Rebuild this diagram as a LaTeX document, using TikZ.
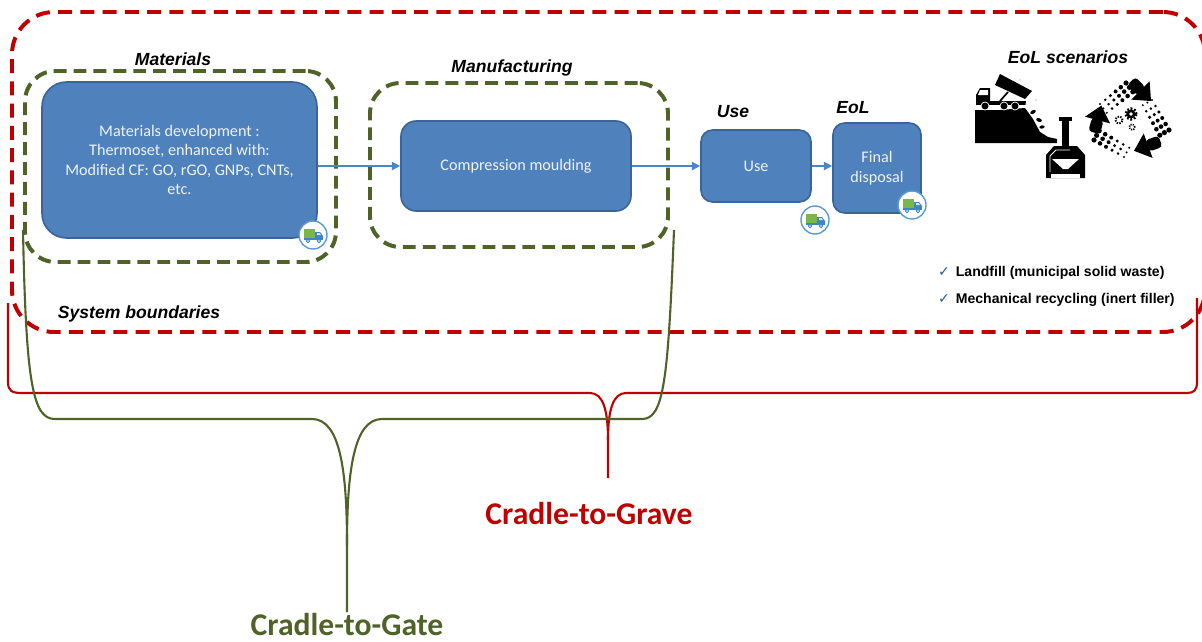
\documentclass[tikz,border=0pt]{standalone}
\usepackage{fontspec}
\setmainfont{Carlito}
\newfontfamily\headfont{Liberation Sans}
\newfontfamily\symbolfont{DejaVu Sans}
\usepackage{tikz}
\usetikzlibrary{arrows.meta, fit}
\usepackage{xcolor}

\definecolor{bndred}{HTML}{C00000}
\definecolor{olive}{HTML}{4F6228}
\definecolor{boxblue}{HTML}{4F81BD}
\definecolor{boxedge}{HTML}{3B6596}
\definecolor{flowblue}{HTML}{4A86C8}
\definecolor{ringblue}{HTML}{5B9BD5}
\definecolor{truckgreen}{HTML}{7AB648}
\definecolor{truckblue}{HTML}{3D85C6}
\definecolor{checkblue}{HTML}{2E5C8A}

\begin{document}
\begin{tikzpicture}[
    x=0.03cm, y=0.03cm,
    stage/.style={draw=boxedge, fill=boxblue, line width=1.4pt, inner sep=0pt, align=center,
        text=white!90!boxblue, font=\fontsize{13.8}{16.6}\selectfont},
    phase/.style={draw=olive, line width=3.4pt, dash pattern=on 11pt off 6pt, rounded corners=26pt, inner sep=0pt},
    boundary/.style={draw=bndred, line width=3.4pt, dash pattern=on 12pt off 7pt, rounded corners=36pt, inner sep=0pt},
    tag/.style={anchor=base, inner sep=1pt, font=\headfont\bfseries\itshape\fontsize{15}{18}\selectfont},
    flow/.style={-{Triangle[length=7pt,width=7pt]}, draw=flowblue, line width=1.2pt},
    brace/.style={line width=1.8pt},
    lcalabel/.style={anchor=base, inner sep=1pt, font=\bfseries\fontsize{27}{30}\selectfont},
    truck/.pic={
        \filldraw[fill=white, draw=ringblue, line width=1.2pt] (0,0) circle (14);
        \fill[truckgreen] (-9,-3) rectangle (2,6);
        \fill[truckblue] (2,-3) -- (2,3) -- (7,3) -- (10,-1) -- (10,-3) -- cycle;
        \fill[white!80!truckblue] (4,0) -- (4,2) -- (6.5,2) -- (8,0) -- cycle;
        \fill[truckblue] (-9,-5) rectangle (10,-3);
        \filldraw[fill=white, draw=truckblue, line width=0.8pt] (-5,-6) circle (1.8) (6,-6) circle (1.8);
    },
    recarrow/.pic={
        \fill[rounded corners=3pt] (-11,-6) rectangle (3,6);
        \fill (2,-13) -- (17,0) -- (2,13) -- cycle;
    }
]
    \useasboundingbox (0,0) rectangle (1202,-641);

    % system boundaries and life cycle phases
    \node[boundary, fit={(12,-12) (1205,-332)}] (system) {};
    \node[phase, fit={(25,-71) (336,-262)}] (matphase) {};
    \node[phase, fit={(370,-83) (668,-247)}] (manphase) {};

    % process boxes
    \node[stage, rounded corners=21pt, minimum width=8.25cm, minimum height=4.68cm] (matdev) at (179.5,-160)
    {Materials development :\\Thermoset, enhanced with:\\Modified CF: GO, rGO, GNPs, CNTs,\\etc.};
    \node[stage, rounded corners=13pt, minimum width=6.9cm, minimum height=2.7cm] (compress) at (516,-166)
    {Compression moulding};
    \node[stage, rounded corners=10pt, minimum width=3.3cm, minimum height=2.16cm] (use) at (756,-166) {Use};
    \node[stage, rounded corners=10pt, minimum width=2.64cm, minimum height=2.7cm] (disposal) at (877,-168)
    {Final\\[1pt]disposal};

    % transport
    \pic at (313,-235) {truck};
    \pic at (815,-220) {truck};
    \pic at (912,-205) {truck};

    % flows
    \draw[flow] (matdev.east |- compress) -- (compress.west);
    \draw[flow] (compress.east) -- (use.west);
    \draw[flow] (use.east) -- (use.east -| disposal.west);

    % phase titles
    \node[tag] (mattitle) at (173,-65) {Materials};
    \node[tag] (mantitle) at (512,-72) {Manufacturing};
    \node[tag] (usetitle) at (733,-117) {Use};
    \node[tag] (eoltitle) at (853,-113) {EoL};
    \node[tag] (scentitle) at (1068,-63) {EoL scenarios};
    \node[tag] (systitle) at (139,-318) {System boundaries};

    % landfill
    \fill (975,-110) -- (1000,-110) -- (1025,-108) -- (1033,-119) -- (1040,-132) -- (1048,-137)
        -- (1057,-139) -- (1057,-143) -- (975,-143) -- cycle;
    \fill (976,-104) -- (976,-95) -- (980,-88) -- (990,-88) -- (990,-104) -- cycle;
    \fill[white] (980,-90) -- (988,-90) -- (988,-95) -- (978,-95) -- cycle;
    \fill (976,-101) rectangle (1026,-105);
    \fill (995,-85) -- (1000,-74) -- (1032,-91) -- (1025,-99) -- cycle;
    \draw[line width=1.5pt] (1000,-101) -- (1008,-92);
    \filldraw[draw=white, line width=0.6pt] (985,-106) circle (4) (1004,-106) circle (4) (1015,-106) circle (4);
    \fill[rotate around={30:(1033,-112)}] (1033,-112) ellipse (3 and 1.8);
    \fill[rotate around={-20:(1039,-120)}] (1039,-120) ellipse (3 and 1.8);
    \fill[rotate around={50:(1031,-127)}] (1031,-127) ellipse (2.6 and 1.6);
    \fill[rotate around={10:(1042,-127)}] (1042,-127) ellipse (2.6 and 1.6);
    \fill[gray!30] (1020,-80) circle (1) (1026,-104) circle (1) (1036,-100) circle (1.2);

    % incinerator
    \fill (1059,-117) rectangle (1072,-121);
    \fill (1062,-121) rectangle (1069,-147);
    \fill (1046,-178) -- (1046,-155) -- (1054,-146) -- (1077,-146) -- (1085,-155) -- (1085,-178) -- cycle;
    \draw[white, line width=0.8pt] (1050,-172) -- (1050,-156) -- (1056,-150) -- (1070,-150);
    \fill[white] (1052,-159) -- (1079,-159) -- (1068,-169) -- (1063,-169) -- cycle;
    \fill[white] (1051,-174) rectangle (1080,-178);

    % recycling
    \foreach \i in {0,...,5}
        \foreach \j in {0,1,2}
            \fill ({1100+\i*5.2+\j*3.4},{-104+\i*4.2-\j*4.4}) circle ({1.1+0.3*\i});
    \foreach \i in {0,...,5}
        \foreach \j in {0,1,2}
            \fill ({1152+\i*3.4-\j*4.6},{-100-\i*6-\j*2.6}) circle ({1.1+0.3*\i});
    \foreach \i in {0,...,5}
        \foreach \j in {0,1,2}
            \fill ({1124-\i*6+\j*2.6},{-157+\i*3.4+\j*4.6}) circle ({1.1+0.3*\i});
    \pic[rotate=-45] at (1139,-89) {recarrow};
    \pic[rotate=75] at (1097,-122) {recarrow};
    \pic[rotate=200] at (1150,-145) {recarrow};
    \draw[line width=2pt, dash pattern=on 1.5pt off 1.5pt] (1131,-114) circle (5.5);
    \fill (1131,-114) circle (4.6);
    \fill[white] (1131,-114) circle (1.9);
    \draw[line width=1.6pt, dash pattern=on 1.2pt off 1.2pt] (1119,-120) circle (3.6);
    \fill[white] (1119,-120) circle (1.3);
    \draw[line width=1.4pt, dash pattern=on 1pt off 1pt] (1132,-127) circle (2.8);

    % scenario list
    \node[anchor=west, align=left, inner sep=0pt, font=\headfont\bfseries\fontsize{12}{23}\selectfont] (scenlist) at (938,-286)
    {{\symbolfont\color{checkblue}\mdseries ✓}\hspace{5pt}Landfill (municipal solid waste)\\
     {\symbolfont\color{checkblue}\mdseries ✓}\hspace{5pt}Mechanical recycling (inert filler)};

    % cradle-to-grave
    \draw[brace, bndred] (8,-303) -- (8,-382) .. controls (8,-391) and (12,-393) .. (22,-393) -- (590,-393)
        .. controls (603,-393) and (608,-410) .. (608,-440) -- (608,-478);
    \draw[brace, bndred] (608,-440) .. controls (608,-410) and (613,-393) .. (626,-393) -- (1187,-393)
        .. controls (1194,-393) and (1197,-390) .. (1197,-382) -- (1197,-298);
    \node[lcalabel, text=bndred] (grave) at (589,-524) {Cradle-to-Grave};

    % cradle-to-gate
    \draw[brace, olive] (23,-230) .. controls (26,-385) and (33,-419) .. (55,-419) -- (312,-419)
        .. controls (340,-419) and (347,-470) .. (347,-545) -- (347,-612);
    \draw[brace, olive] (347,-545) .. controls (347,-470) and (354,-419) .. (382,-419) -- (642,-419)
        .. controls (664,-419) and (668,-380) .. (674,-230);
    \node[lcalabel, text=olive] (gate) at (347,-635) {Cradle-to-Gate};
\end{tikzpicture}
\end{document}
